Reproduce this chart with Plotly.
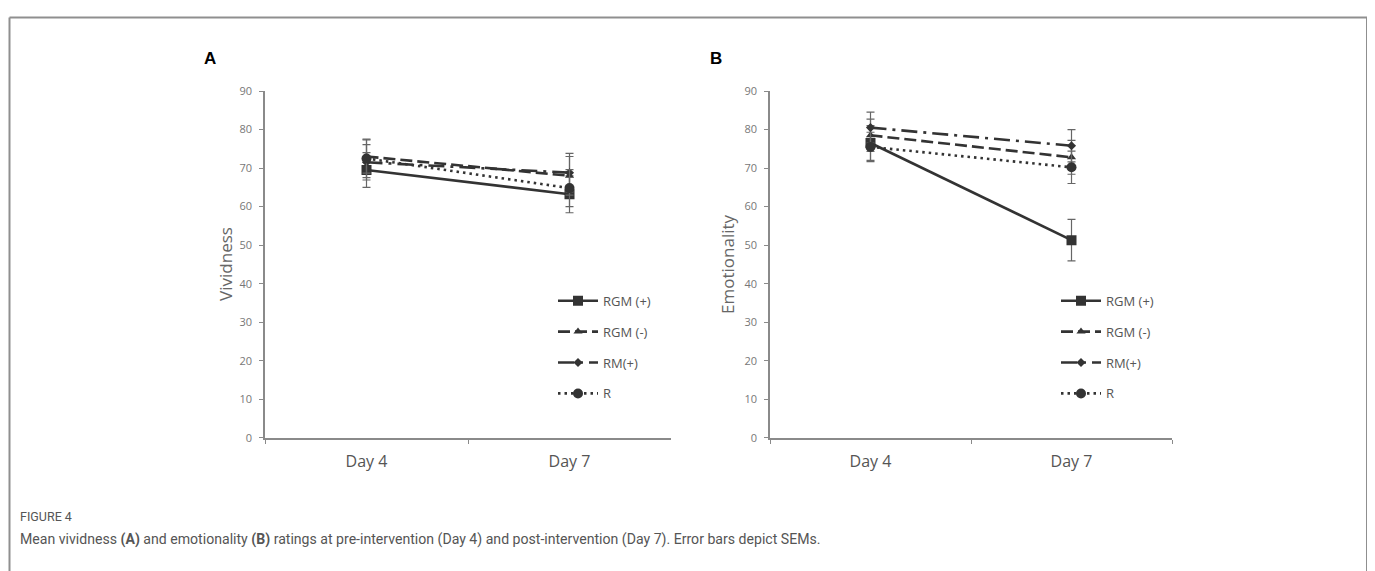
import plotly.graph_objects as go

W, H = 1375, 571

days = ["Day 4", "Day 7"]
groups = ["RGM (+)", "RGM (-)", "RM(+)", "R"]

# Panel A: vividness
viv_rgm_pos = [69.5, 63.2]
viv_rgm_neg = [73.0, 68.0]
viv_rm_pos = [71.5, 68.8]
viv_r = [72.5, 64.8]
viv_rgm_pos_se = [4.5, 4.8]
viv_rgm_neg_se = [4.3, 5.0]
viv_rm_pos_se = [4.6, 5.0]
viv_r_se = [5.0, 4.8]

# Panel B: emotionality
emo_rgm_pos = [76.5, 51.3]
emo_rgm_neg = [78.5, 72.8]
emo_rm_pos = [80.5, 75.8]
emo_r = [75.5, 70.2]
emo_rgm_pos_se = [4.5, 5.4]
emo_rgm_neg_se = [4.2, 4.4]
emo_rm_pos_se = [4.0, 4.2]
emo_r_se = [3.8, 4.2]

yticks = [0, 10, 20, 30, 40, 50, 60, 70, 80, 90]

INK = "#333333"
styles = [
    dict(dash="solid", symbol="square", size=10),
    dict(dash="12px,5px", symbol="triangle-up", size=8),
    dict(dash="16px,6px,3px,6px", symbol="diamond", size=7),
    dict(dash="2.5px,4px", symbol="circle", size=10),
]

# empirical page offset compensation
OX, OY, SY = 8.0, 13.5, 0.98


def px(x):
    return (x - OX) / W


def py(y):
    return 1 - ((y - OY) / SY) / H


fig = go.Figure()

panelA = [(viv_rgm_pos, viv_rgm_pos_se), (viv_rgm_neg, viv_rgm_neg_se),
          (viv_rm_pos, viv_rm_pos_se), (viv_r, viv_r_se)]
panelB = [(emo_rgm_pos, emo_rgm_pos_se), (emo_rgm_neg, emo_rgm_neg_se),
          (emo_rm_pos, emo_rm_pos_se), (emo_r, emo_r_se)]

for panel, (xa, ya, leg, pfx) in zip([panelA, panelB],
                                     [("x", "y", "legend", "a"), ("x2", "y2", "legend2", "b")]):
    for i, (vals, se) in enumerate(panel):
        st = styles[i]
        fig.add_trace(go.Scatter(
            x=days, y=vals, xaxis=xa, yaxis=ya, name=groups[i],
            mode="lines+markers",
            line=dict(color=INK, width=2.6, dash=st["dash"]),
            marker=dict(symbol=st["symbol"], size=st["size"], color=INK),
            error_y=dict(type="data", array=se, visible=True, color="#666666",
                         thickness=1.2, width=4),
            legend=leg, legendgroup=pfx + str(i),
        ))

axis_common = dict(showline=True, linecolor="#8a8a8a", linewidth=1.5,
                   showgrid=False, zeroline=False, ticks="outside",
                   tickcolor="#8a8a8a", ticklen=4)
xfont = dict(family="Open Sans", size=16, color="#555555")
yfont = dict(family="Open Sans", size=11, color="#777777")

ydom = [py(438), py(89)]
fig.update_layout(
    width=W, height=H,
    margin=dict(l=0, r=0, t=0, b=0),
    paper_bgcolor="white", plot_bgcolor="white",
    xaxis=dict(domain=[px(265), px(671)], type="category", range=[-0.5, 1.5],
               tickson="boundaries", anchor="y", tickfont=xfont,
               ticklabelstandoff=8, **axis_common),
    yaxis=dict(domain=ydom, range=[0, 90], tickvals=yticks, anchor="x",
               tickfont=yfont, ticklabelstandoff=5, **axis_common),
    xaxis2=dict(domain=[px(770), px(1172)], type="category", range=[-0.5, 1.5],
                tickson="boundaries", anchor="y2", tickfont=xfont,
                ticklabelstandoff=8, **axis_common),
    yaxis2=dict(domain=ydom, range=[0, 90], tickvals=yticks, anchor="x2",
                tickfont=yfont, ticklabelstandoff=5, **axis_common),
    legend=dict(x=px(553), y=py(285), xanchor="left", yanchor="top",
                bgcolor="rgba(0,0,0,0)", tracegroupgap=11, itemwidth=40,
                font=dict(family="Open Sans", size=13, color="#555555")),
    legend2=dict(x=px(1056), y=py(285), xanchor="left", yanchor="top",
                 bgcolor="rgba(0,0,0,0)", tracegroupgap=11, itemwidth=40,
                 font=dict(family="Open Sans", size=13, color="#555555")),
    showlegend=True,
)

annotations = [
    dict(text="<b>A</b>", x=px(210), y=py(56), font=dict(family="Liberation Sans", size=17, color="black")),
    dict(text="<b>B</b>", x=px(716), y=py(56), font=dict(family="Liberation Sans", size=17, color="black")),
    dict(text="Vividness", x=px(226), y=py(263), textangle=-90,
         font=dict(family="Open Sans", size=17, color="#666666")),
    dict(text="Emotionality", x=px(728), y=py(263), textangle=-90,
         font=dict(family="Open Sans", size=17, color="#666666")),
    dict(text="FIGURE 4", x=px(18), y=py(517), xanchor="left",
         font=dict(family="Roboto", size=12.5, color="#555555")),
    dict(text="Mean vividness <b>(A)</b> and emotionality <b>(B)</b> ratings at pre-intervention (Day 4) "
              "and post-intervention (Day 7). Error bars depict SEMs.",
         x=px(18), y=py(540), xanchor="left",
         font=dict(family="Roboto", size=14.1, color="#555555")),
]
for a in annotations:
    a.update(xref="paper", yref="paper", showarrow=False)
    a.setdefault("xanchor", "center")
    a["yanchor"] = "middle"
fig.update_layout(annotations=annotations)

frame = dict(type="line", xref="paper", yref="paper", line=dict(color="#8f8f8f", width=2))
fig.add_shape(x0=px(9.5), x1=px(9.5), y0=py(15), y1=py(600), **frame)
fig.add_shape(x0=px(9.5), x1=px(1367), y0=py(15), y1=py(15), **frame)
fig.add_shape(x0=px(1367), x1=px(1367), y0=py(15), y1=py(600), **frame)

fig.write_html("out.html")
